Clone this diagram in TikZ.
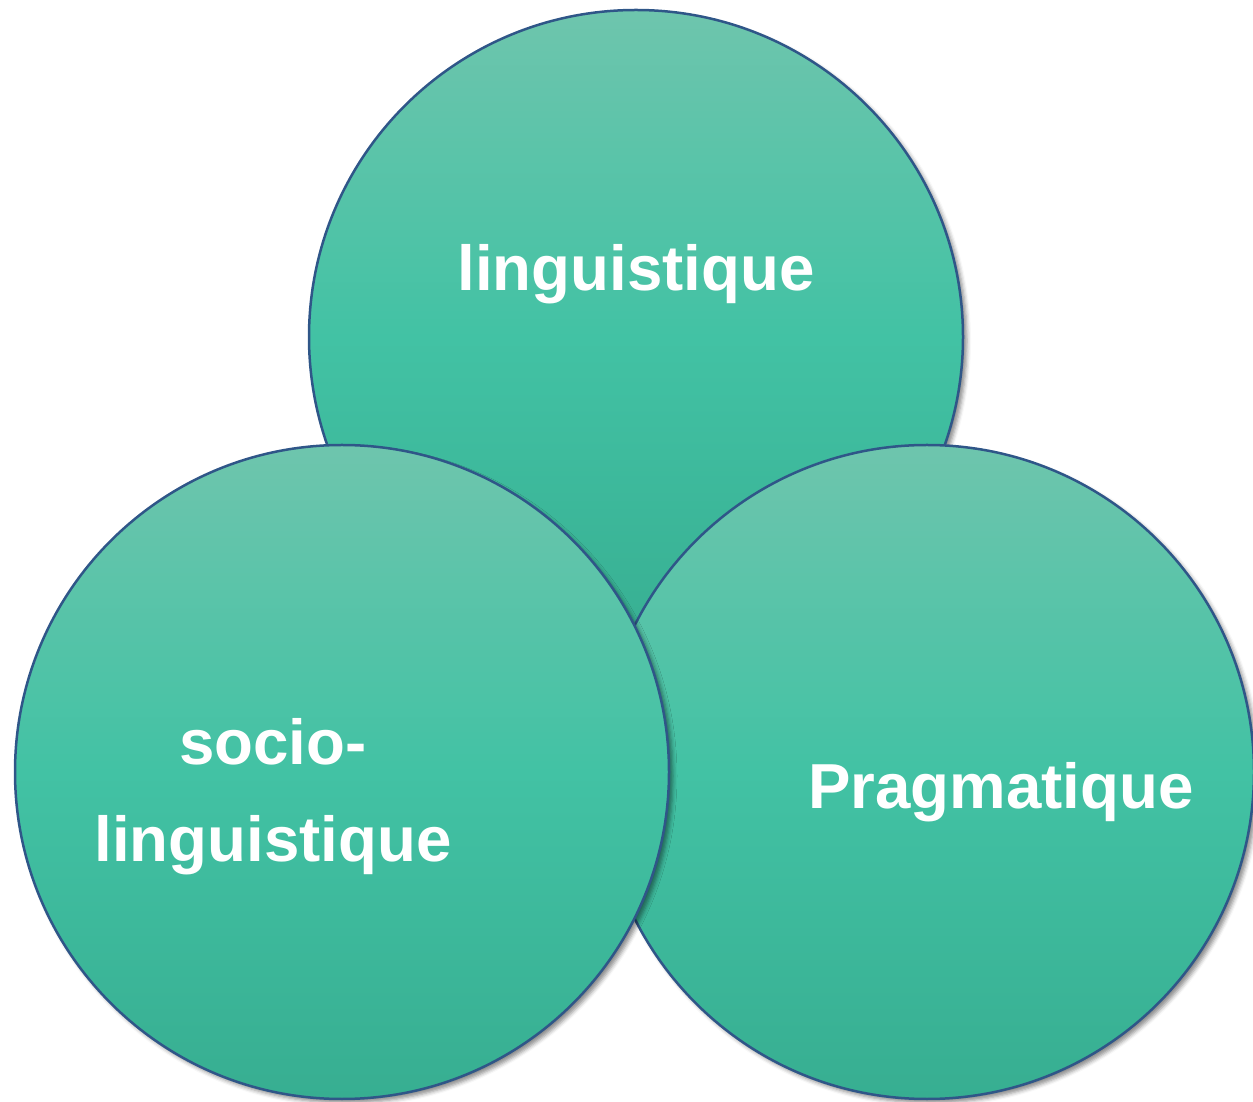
\documentclass[tikz,border=0pt]{standalone}
\usepackage{fontspec}
\setmainfont{Liberation Sans}
\usetikzlibrary{positioning,shadows.blur}
\definecolor{tealtop}{RGB}{110,197,173}
\definecolor{tealmid}{RGB}{66,194,164}
\definecolor{tealbot}{RGB}{55,174,145}
\definecolor{rimblue}{RGB}{47,86,136}

\begin{document}
\begin{tikzpicture}[x=1pt,y=1pt]
            \tikzstyle{bubble}=[circle, minimum size = 654pt, inner sep=0pt, line width=2.5pt, draw = rimblue, top color=tealtop, bottom color=tealbot, middle color=tealmid, blur shadow={shadow xshift=4pt, shadow yshift=-4pt, shadow blur radius=4pt, shadow opacity=45}]
            \tikzstyle{caption}=[text=white, font=\bfseries\fontsize{63.6}{97}\selectfont, align=center, anchor=base]
            \useasboundingbox (0,0) rectangle (1253,1101);
            \node[bubble] (ling) at (636,764){};
            \node[bubble] (prag) at (927,329){};
            \node[bubble] (socio) at (342,329){};

            \node[caption] (lingtext) at (636,810){linguistique};
            \node[caption] (sociotext) at (273,239){socio-\\linguistique};
            \node[caption] (pragtext) at (1001,292){Pragmatique};
        \end{tikzpicture}
\end{document}
